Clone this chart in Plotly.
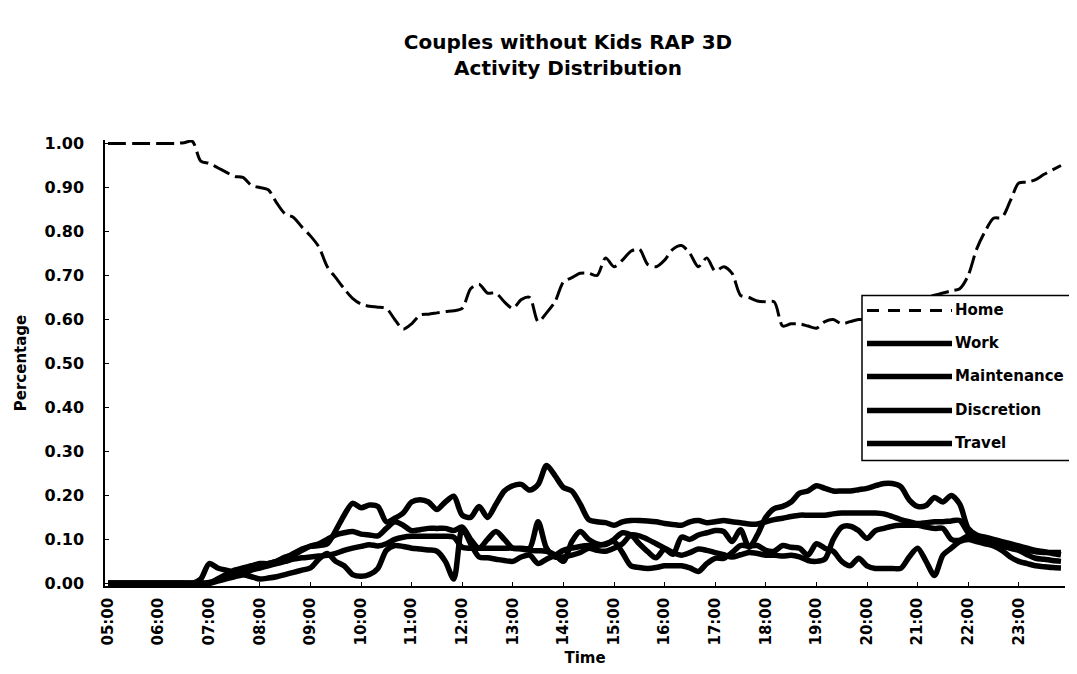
import pandas as pd
import plotly.graph_objects as go

# ---- data (10-minute steps, 05:00 .. 23:50) ----
times = pd.date_range("2000-01-01 05:00", "2000-01-01 23:50", freq="10min")

home = [
    1.0, 1.0, 1.0, 1.0, 1.0, 1.0,
    1.0, 1.0, 1.0, 1.002, 1.005, 0.96,
    0.955, 0.945, 0.935, 0.925, 0.923, 0.905,
    0.90, 0.895, 0.865, 0.84, 0.832, 0.81,
    0.79, 0.765, 0.72, 0.695, 0.67, 0.648,
    0.635, 0.63, 0.628, 0.625, 0.60, 0.578,
    0.59, 0.61, 0.612, 0.615, 0.618, 0.62,
    0.625, 0.67, 0.68, 0.66, 0.66, 0.64,
    0.625, 0.645, 0.65, 0.595, 0.615, 0.64,
    0.685, 0.695, 0.705, 0.705, 0.70, 0.74,
    0.72, 0.735, 0.755, 0.76, 0.725, 0.72,
    0.735, 0.76, 0.768, 0.75, 0.72, 0.74,
    0.71, 0.72, 0.705, 0.655, 0.65, 0.642,
    0.64, 0.64, 0.585, 0.59, 0.59, 0.585,
    0.58, 0.595, 0.60, 0.59, 0.595, 0.60,
    0.60, 0.61, 0.60, 0.62, 0.63, 0.64,
    0.64, 0.65, 0.655, 0.66, 0.665, 0.67,
    0.70, 0.76, 0.80, 0.83, 0.832, 0.87,
    0.91, 0.912, 0.918, 0.93, 0.94, 0.95,
]

work = [
    0, 0, 0, 0, 0, 0,
    0, 0, 0, 0, 0, 0,
    0.002, 0.008, 0.015, 0.02, 0.028, 0.035,
    0.04, 0.045, 0.05, 0.058, 0.068, 0.078,
    0.084, 0.086, 0.09, 0.12, 0.155, 0.182,
    0.172, 0.178, 0.175, 0.14, 0.148, 0.16,
    0.185, 0.19, 0.185, 0.168, 0.185, 0.198,
    0.155, 0.15, 0.175, 0.15, 0.18, 0.21,
    0.222, 0.225, 0.212, 0.225, 0.268, 0.245,
    0.218, 0.21, 0.18, 0.145, 0.14, 0.138,
    0.132, 0.14, 0.143, 0.143, 0.142, 0.14,
    0.136, 0.134, 0.132, 0.14, 0.143, 0.138,
    0.14, 0.143, 0.14, 0.138, 0.135, 0.135,
    0.14, 0.145, 0.148, 0.152, 0.155, 0.155,
    0.155, 0.155, 0.158, 0.16, 0.16, 0.16,
    0.16, 0.16, 0.158, 0.152, 0.145, 0.14,
    0.136, 0.138, 0.14, 0.14, 0.142, 0.143,
    0.115, 0.10, 0.095, 0.09, 0.085, 0.08,
    0.078, 0.075, 0.072, 0.07, 0.07, 0.07,
]

maintenance = [
    0, 0, 0, 0, 0, 0,
    0, 0, 0, 0, 0, 0,
    0, 0.01, 0.02, 0.03, 0.035, 0.04,
    0.045, 0.045, 0.05, 0.06, 0.065, 0.075,
    0.085, 0.09, 0.10, 0.11, 0.115, 0.118,
    0.112, 0.11, 0.108, 0.125, 0.14, 0.132,
    0.12, 0.122, 0.125, 0.125, 0.125, 0.12,
    0.128, 0.10, 0.08, 0.10, 0.118, 0.10,
    0.08, 0.08, 0.08, 0.14, 0.08, 0.06,
    0.06, 0.064, 0.07, 0.08, 0.075, 0.073,
    0.08, 0.09, 0.11, 0.108, 0.10, 0.09,
    0.08, 0.07, 0.064, 0.07, 0.078, 0.075,
    0.07, 0.065, 0.06, 0.065, 0.07, 0.068,
    0.064, 0.064, 0.062, 0.064, 0.06, 0.052,
    0.05, 0.055, 0.10, 0.128, 0.13, 0.12,
    0.102, 0.12, 0.125, 0.13, 0.132, 0.132,
    0.132, 0.128, 0.125, 0.125, 0.10, 0.098,
    0.108, 0.105, 0.10, 0.095, 0.09, 0.08,
    0.075, 0.065, 0.057, 0.055, 0.052, 0.05,
]

discretion = [
    0, 0, 0, 0, 0, 0,
    0, 0, 0, 0, 0, 0,
    0, 0.005, 0.01, 0.015, 0.02, 0.03,
    0.035, 0.04, 0.045, 0.05, 0.055, 0.058,
    0.06, 0.062, 0.064, 0.068, 0.075, 0.08,
    0.084, 0.088, 0.085, 0.09, 0.10, 0.105,
    0.107, 0.107, 0.107, 0.107, 0.107, 0.105,
    0.082, 0.08, 0.08, 0.08, 0.08, 0.08,
    0.08, 0.078, 0.075, 0.074, 0.073, 0.065,
    0.05, 0.095, 0.118, 0.10, 0.09, 0.088,
    0.10, 0.115, 0.11, 0.09, 0.072, 0.058,
    0.078, 0.066, 0.105, 0.10, 0.11, 0.115,
    0.12, 0.118, 0.095, 0.122, 0.082, 0.11,
    0.15, 0.17, 0.175, 0.185, 0.205, 0.21,
    0.222, 0.216, 0.21, 0.21, 0.21, 0.213,
    0.216, 0.222, 0.227, 0.227, 0.22, 0.19,
    0.175, 0.177, 0.195, 0.185, 0.2, 0.18,
    0.125, 0.11, 0.105, 0.10, 0.095, 0.09,
    0.085, 0.08, 0.075, 0.072, 0.068, 0.065,
]

travel = [
    0, 0, 0, 0, 0, 0,
    0, 0, 0, 0, 0, 0.01,
    0.045, 0.035, 0.03, 0.025, 0.02, 0.015,
    0.01, 0.012, 0.015, 0.02, 0.025, 0.03,
    0.035, 0.055, 0.068, 0.05, 0.04, 0.02,
    0.016, 0.02, 0.034, 0.075, 0.086, 0.084,
    0.08, 0.078, 0.076, 0.073, 0.05, 0.01,
    0.125, 0.09, 0.06, 0.058, 0.055, 0.052,
    0.05, 0.06, 0.064, 0.045, 0.055, 0.064,
    0.075, 0.08, 0.084, 0.086, 0.086, 0.09,
    0.095, 0.07, 0.04, 0.036, 0.034, 0.036,
    0.04, 0.04, 0.04, 0.035, 0.027, 0.045,
    0.057, 0.057, 0.07, 0.086, 0.085, 0.086,
    0.075, 0.073, 0.086, 0.082, 0.08, 0.064,
    0.09, 0.08, 0.073, 0.05, 0.04, 0.057,
    0.04, 0.034, 0.034, 0.034, 0.034, 0.06,
    0.08, 0.05, 0.018, 0.064, 0.08, 0.095,
    0.10, 0.095, 0.09, 0.085, 0.075, 0.06,
    0.05, 0.045, 0.04, 0.038, 0.036, 0.035,
]

series_names = ["Home", "Work", "Maintenance", "Discretion", "Travel"]
series_values = [home, work, maintenance, discretion, travel]
series_dash = ["18px,6px", "solid", "solid", "solid", "solid"]
series_width = [3, 5.5, 5.5, 5.5, 5.5]

hour_ticks = pd.date_range("2000-01-01 05:00", "2000-01-01 23:00", freq="1h")
hour_labels = [f"{h:02d}:00" for h in range(5, 24)]
y_ticks = [i / 10 for i in range(11)]

FONT = "DejaVu Sans"

fig = go.Figure()
for name, vals, dash, w in zip(series_names, series_values, series_dash, series_width):
    fig.add_trace(go.Scatter(
        x=times, y=vals, name=name, mode="lines",
        line=dict(color="black", width=w, dash=dash, shape="spline", smoothing=0.8),
        showlegend=False,
    ))

# plot area geometry (pixels)
W_FIG, H_FIG = 1077, 674
L, R, T, B = 97, 1057, 131.5, 577.6
PW, PH = R - L, B - T


def px(xp):
    return (xp - L) / PW


def py(yp):
    return (B - yp) / PH


# ---- legend box (built from the series list) ----
shapes = [dict(type="rect", xref="paper", yref="paper",
               x0=px(854), x1=px(1075), y0=py(452), y1=py(287),
               fillcolor="white", line=dict(color="black", width=1.5), layer="above")]
annotations = []
legend_rows = [302, 335, 368, 402, 435]
for name, dash, w, yrow in zip(series_names, series_dash, series_width, legend_rows):
    shapes.append(dict(type="line", xref="paper", yref="paper",
                       x0=px(859), x1=px(944), y0=py(yrow), y1=py(yrow),
                       line=dict(color="black", width=w if w > 3 else 3,
                                 dash="12px,9px" if dash != "solid" else "solid"),
                       layer="above"))
    annotations.append(dict(xref="paper", yref="paper", x=px(945), y=py(yrow),
                            xanchor="left", yanchor="middle", text=name, showarrow=False,
                            font=dict(family=FONT, size=15, color="black", weight="bold")))

fig.update_layout(
    width=W_FIG, height=H_FIG,
    margin=dict(l=L, r=W_FIG - R, t=T, b=H_FIG - B, autoexpand=False),
    paper_bgcolor="white", plot_bgcolor="white",
    title=dict(text="Couples without Kids RAP 3D<br>Activity Distribution",
               x=560 / W_FIG, xanchor="center", xref="container",
               y=1 - 41 / H_FIG, yanchor="middle", yref="container",
               font=dict(family=FONT, size=20, color="black", weight="bold")),
    shapes=shapes,
    annotations=annotations,
    showlegend=False,
)

fig.update_xaxes(
    range=["2000-01-01 04:56:26", "2000-01-01 23:54:47"],
    tickvals=hour_ticks, ticktext=hour_labels, tickangle=-90,
    ticks="inside", ticklen=4, tickcolor="black",
    showline=True, linecolor="black", linewidth=1.5, showgrid=False, zeroline=False,
    tickfont=dict(family=FONT, size=15, color="black", weight="bold"),
    ticklabelstandoff=4,
    title=dict(text="Time", standoff=8,
               font=dict(family=FONT, size=15, color="black", weight="bold")),
)
fig.update_yaxes(
    range=[-0.006, 1.008],
    tickvals=y_ticks, tickformat=".2f",
    ticks="inside", ticklen=4, tickcolor="black",
    showline=True, linecolor="black", linewidth=1.5, showgrid=False, zeroline=False,
    tickfont=dict(family=FONT, size=16, color="black", weight="bold"),
    ticklabelstandoff=16,
    title=dict(text="Percentage", standoff=14,
               font=dict(family=FONT, size=15, color="black", weight="bold")),
)

fig.write_html("out.html")
